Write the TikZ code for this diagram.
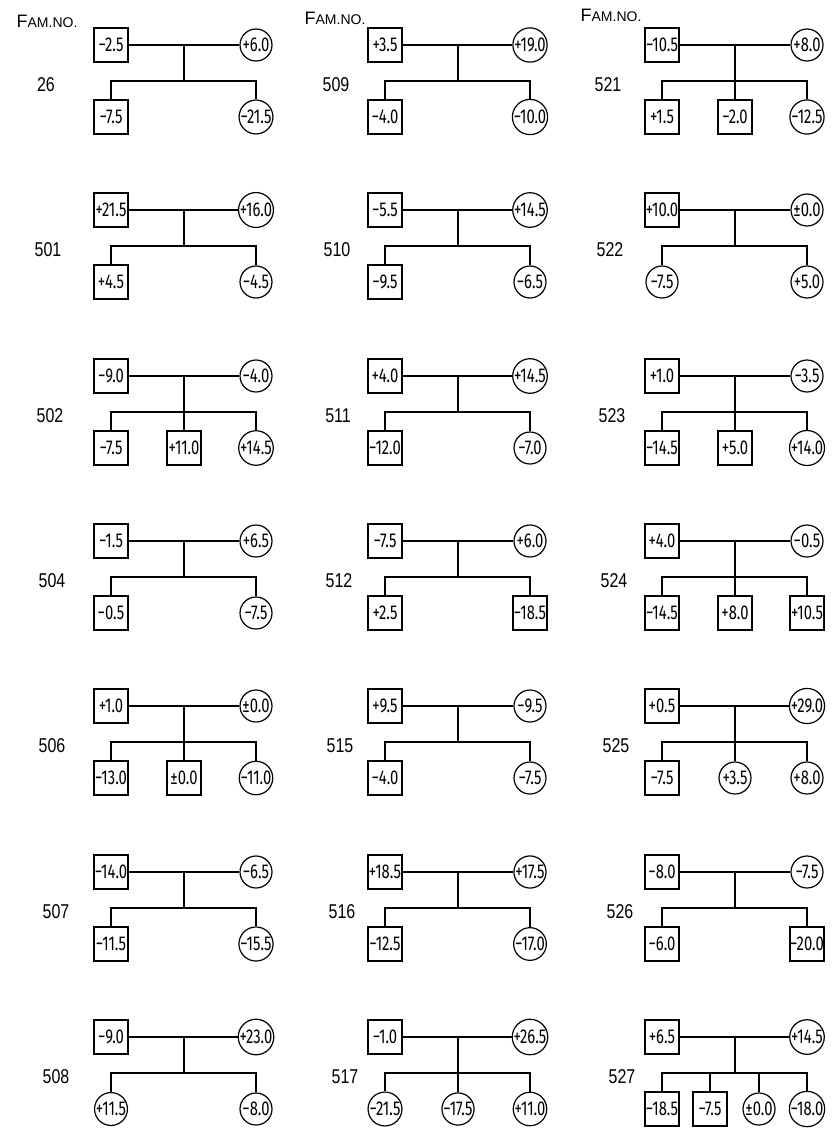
\documentclass[tikz,border=0pt]{standalone}
\usepackage{fontspec}
\setmainfont{Liberation Sans}
\newfontfamily\lettering[FakeStretch=0.74,Numbers=Proportional]{Fira Sans}
\newfontfamily\numlettering[FakeStretch=0.8]{Liberation Sans}
\usepackage{tikz}
\usetikzlibrary{positioning}

\begin{document}
\begin{tikzpicture}[x=1pt,y=-1pt,
  male/.style={draw,rectangle,line width=1.2pt,minimum width=34pt,minimum height=34pt,inner sep=0pt,font=\lettering\fontsize{20}{20}\selectfont},
  female/.style={draw,circle,line width=1.2pt,minimum size=32pt,inner sep=0pt,font=\lettering\fontsize{20}{20}\selectfont},
  famno/.style={font=\numlettering\fontsize{20}{20}\selectfont},
  head/.style={font=\fontsize{14}{14}\selectfont,inner sep=0pt},
  link/.style={line width=1.6pt}]
  \path[fill=white,use as bounding box] (0,0) rectangle (836,1132);
  \node[head] (h1) at (47,21) {{\fontsize{18}{18}\selectfont F}AM.NO.};
  \node[head] (h2) at (335,18) {{\fontsize{18}{18}\selectfont F}AM.NO.};
  \node[head] (h3) at (611,15) {{\fontsize{18}{18}\selectfont F}AM.NO.};
  % column 1
  \node[famno] (n26) at (46,85) {26};
  \node[male] (f26) at (111,45) {−2.5}; \node[female] (m26) at (256,45) {+6.0};
  \coordinate (p26) at (184,45); \coordinate (j26) at (184,81);
  \node[male] (c26a) at (111,117) {−7.5}; \node[female] (c26b) at (256,117) {−21.5};
  \draw[link] (f26)--(m26); \draw[link] (p26)--(j26); \draw[link] (c26a)|-(j26)-|(c26b);

  \node[famno] (n501) at (48,250) {501};
  \node[male] (f501) at (111,210) {+21.5}; \node[female] (m501) at (256,210) {+16.0};
  \coordinate (p501) at (184,210); \coordinate (j501) at (184,246);
  \node[male] (c501a) at (111,282) {+4.5}; \node[female] (c501b) at (256,282) {−4.5};
  \draw[link] (f501)--(m501); \draw[link] (p501)--(j501); \draw[link] (c501a)|-(j501)-|(c501b);

  \node[famno] (n502) at (50,416) {502};
  \node[male] (f502) at (111,376) {−9.0}; \node[female] (m502) at (256,376) {−4.0};
  \coordinate (p502) at (184,376); \coordinate (j502) at (184,412);
  \node[male] (c502a) at (111,448) {−7.5}; \node[male] (c502b) at (184,448) {+11.0}; \node[female] (c502c) at (256,448) {+14.5};
  \draw[link] (f502)--(m502); \draw[link] (p502)--(c502b); \draw[link] (c502a)|-(j502)-|(c502c);

  \node[famno] (n504) at (52,581) {504};
  \node[male] (f504) at (111,541) {−1.5}; \node[female] (m504) at (256,541) {+6.5};
  \coordinate (p504) at (184,541); \coordinate (j504) at (184,577);
  \node[male] (c504a) at (111,613) {−0.5}; \node[female] (c504b) at (256,613) {−7.5};
  \draw[link] (f504)--(m504); \draw[link] (p504)--(j504); \draw[link] (c504a)|-(j504)-|(c504b);

  \node[famno] (n506) at (52,746) {506};
  \node[male] (f506) at (111,706) {+1.0}; \node[female] (m506) at (256,706) {±0.0};
  \coordinate (p506) at (184,706); \coordinate (j506) at (184,742);
  \node[male] (c506a) at (111,778) {−13.0}; \node[male] (c506b) at (184,778) {±0.0}; \node[female] (c506c) at (256,778) {−11.0};
  \draw[link] (f506)--(m506); \draw[link] (p506)--(c506b); \draw[link] (c506a)|-(j506)-|(c506c);

  \node[famno] (n507) at (56,912) {507};
  \node[male] (f507) at (111,872) {−14.0}; \node[female] (m507) at (256,872) {−6.5};
  \coordinate (p507) at (184,872); \coordinate (j507) at (184,908);
  \node[male] (c507a) at (111,944) {−11.5}; \node[female] (c507b) at (256,944) {−15.5};
  \draw[link] (f507)--(m507); \draw[link] (p507)--(j507); \draw[link] (c507a)|-(j507)-|(c507b);

  \node[famno] (n508) at (56,1077) {508};
  \node[male] (f508) at (111,1037) {−9.0}; \node[female] (m508) at (256,1037) {+23.0};
  \coordinate (p508) at (184,1037); \coordinate (j508) at (184,1073);
  \node[female] (c508a) at (111,1109) {+11.5}; \node[female] (c508b) at (256,1109) {−8.0};
  \draw[link] (f508)--(m508); \draw[link] (p508)--(j508); \draw[link] (c508a)|-(j508)-|(c508b);

  % column 2
  \node[famno] (n509) at (336,85) {509};
  \node[male] (f509) at (385,45) {+3.5}; \node[female] (m509) at (530,45) {+19.0};
  \coordinate (p509) at (458,45); \coordinate (j509) at (458,81);
  \node[male] (c509a) at (385,117) {−4.0}; \node[female] (c509b) at (530,117) {−10.0};
  \draw[link] (f509)--(m509); \draw[link] (p509)--(j509); \draw[link] (c509a)|-(j509)-|(c509b);

  \node[famno] (n510) at (337,250) {510};
  \node[male] (f510) at (385,210) {−5.5}; \node[female] (m510) at (530,210) {+14.5};
  \coordinate (p510) at (458,210); \coordinate (j510) at (458,246);
  \node[male] (c510a) at (385,282) {−9.5}; \node[female] (c510b) at (530,282) {−6.5};
  \draw[link] (f510)--(m510); \draw[link] (p510)--(j510); \draw[link] (c510a)|-(j510)-|(c510b);

  \node[famno] (n511) at (338,416) {511};
  \node[male] (f511) at (385,376) {+4.0}; \node[female] (m511) at (530,376) {+14.5};
  \coordinate (p511) at (458,376); \coordinate (j511) at (458,412);
  \node[male] (c511a) at (385,448) {−12.0}; \node[female] (c511b) at (530,448) {−7.0};
  \draw[link] (f511)--(m511); \draw[link] (p511)--(j511); \draw[link] (c511a)|-(j511)-|(c511b);

  \node[famno] (n512) at (339,581) {512};
  \node[male] (f512) at (385,541) {−7.5}; \node[female] (m512) at (530,541) {+6.0};
  \coordinate (p512) at (458,541); \coordinate (j512) at (458,577);
  \node[male] (c512a) at (385,613) {+2.5}; \node[male] (c512b) at (530,613) {−18.5};
  \draw[link] (f512)--(m512); \draw[link] (p512)--(j512); \draw[link] (c512a)|-(j512)-|(c512b);

  \node[famno] (n515) at (340,746) {515};
  \node[male] (f515) at (385,706) {+9.5}; \node[female] (m515) at (530,706) {−9.5};
  \coordinate (p515) at (458,706); \coordinate (j515) at (458,742);
  \node[male] (c515a) at (385,778) {−4.0}; \node[female] (c515b) at (530,778) {−7.5};
  \draw[link] (f515)--(m515); \draw[link] (p515)--(j515); \draw[link] (c515a)|-(j515)-|(c515b);

  \node[famno] (n516) at (342,912) {516};
  \node[male] (f516) at (385,872) {+18.5}; \node[female] (m516) at (530,872) {+17.5};
  \coordinate (p516) at (458,872); \coordinate (j516) at (458,908);
  \node[male] (c516a) at (385,944) {−12.5}; \node[female] (c516b) at (530,944) {−17.0};
  \draw[link] (f516)--(m516); \draw[link] (p516)--(j516); \draw[link] (c516a)|-(j516)-|(c516b);

  \node[famno] (n517) at (345,1077) {517};
  \node[male] (f517) at (385,1037) {−1.0}; \node[female] (m517) at (530,1037) {+26.5};
  \coordinate (p517) at (458,1037); \coordinate (j517) at (458,1073);
  \node[female] (c517a) at (385,1109) {−21.5}; \node[female] (c517b) at (458,1109) {−17.5}; \node[female] (c517c) at (530,1109) {+11.0};
  \draw[link] (f517)--(m517); \draw[link] (p517)--(c517b); \draw[link] (c517a)|-(j517)-|(c517c);

  % column 3
  \node[famno] (n521) at (608,85) {521};
  \node[male] (f521) at (662,45) {−10.5}; \node[female] (m521) at (807,45) {+8.0};
  \coordinate (p521) at (735,45); \coordinate (j521) at (735,81);
  \node[male] (c521a) at (662,117) {+1.5}; \node[male] (c521b) at (735,117) {−2.0}; \node[female] (c521c) at (807,117) {−12.5};
  \draw[link] (f521)--(m521); \draw[link] (p521)--(c521b); \draw[link] (c521a)|-(j521)-|(c521c);

  \node[famno] (n522) at (610,250) {522};
  \node[male] (f522) at (662,210) {+10.0}; \node[female] (m522) at (807,210) {±0.0};
  \coordinate (p522) at (735,210); \coordinate (j522) at (735,246);
  \node[female] (c522a) at (662,282) {−7.5}; \node[female] (c522b) at (807,282) {+5.0};
  \draw[link] (f522)--(m522); \draw[link] (p522)--(j522); \draw[link] (c522a)|-(j522)-|(c522b);

  \node[famno] (n523) at (612,416) {523};
  \node[male] (f523) at (662,376) {+1.0}; \node[female] (m523) at (807,376) {−3.5};
  \coordinate (p523) at (735,376); \coordinate (j523) at (735,412);
  \node[male] (c523a) at (662,448) {−14.5}; \node[male] (c523b) at (735,448) {+5.0}; \node[female] (c523c) at (807,448) {+14.0};
  \draw[link] (f523)--(m523); \draw[link] (p523)--(c523b); \draw[link] (c523a)|-(j523)-|(c523c);

  \node[famno] (n524) at (614,581) {524};
  \node[male] (f524) at (662,541) {+4.0}; \node[female] (m524) at (807,541) {−0.5};
  \coordinate (p524) at (735,541); \coordinate (j524) at (735,577);
  \node[male] (c524a) at (662,613) {−14.5}; \node[male] (c524b) at (735,613) {+8.0}; \node[male] (c524c) at (807,613) {+10.5};
  \draw[link] (f524)--(m524); \draw[link] (p524)--(c524b); \draw[link] (c524a)|-(j524)-|(c524c);

  \node[famno] (n525) at (616,746) {525};
  \node[male] (f525) at (662,706) {+0.5}; \node[female] (m525) at (807,706) {+29.0};
  \coordinate (p525) at (735,706); \coordinate (j525) at (735,742);
  \node[male] (c525a) at (662,778) {−7.5}; \node[female] (c525b) at (735,778) {+3.5}; \node[female] (c525c) at (807,778) {+8.0};
  \draw[link] (f525)--(m525); \draw[link] (p525)--(c525b); \draw[link] (c525a)|-(j525)-|(c525c);

  \node[famno] (n526) at (620,912) {526};
  \node[male] (f526) at (662,872) {−8.0}; \node[female] (m526) at (807,872) {−7.5};
  \coordinate (p526) at (735,872); \coordinate (j526) at (735,908);
  \node[male] (c526a) at (662,944) {−6.0}; \node[male] (c526b) at (807,944) {−20.0};
  \draw[link] (f526)--(m526); \draw[link] (p526)--(j526); \draw[link] (c526a)|-(j526)-|(c526b);

  \node[famno] (n527) at (622,1077) {527};
  \node[male] (f527) at (662,1037) {+6.5}; \node[female] (m527) at (807,1037) {+14.5};
  \coordinate (p527) at (735,1037); \coordinate (j527) at (735,1073);
  \node[male] (c527a) at (662,1109) {−18.5}; \node[male] (c527b) at (710,1109) {−7.5};
  \node[female] (c527c) at (759,1109) {±0.0}; \node[female] (c527d) at (807,1109) {−18.0};
  \draw[link] (f527)--(m527); \draw[link] (p527)--(j527); \draw[link] (c527a)|-(j527)-|(c527d);
  \draw[link] (c527b)|-(j527); \draw[link] (c527c)|-(j527);
\end{tikzpicture}
\end{document}
